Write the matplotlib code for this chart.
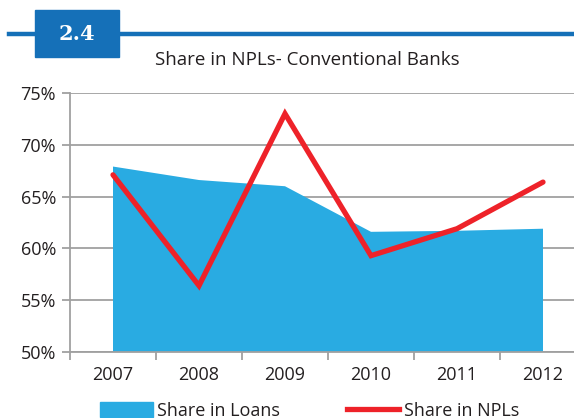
import matplotlib.pyplot as plt
from matplotlib.patches import Rectangle, Patch
from matplotlib.lines import Line2D

plt.rcParams['font.family'] = ['Open Sans', 'DejaVu Sans']

years = ['2007', '2008', '2009', '2010', '2011', '2012']
share_loans = [67.9, 66.6, 66.0, 61.6, 61.7, 61.9]
share_npls = [67.1, 56.4, 73.0, 59.3, 61.9, 66.4]
yticks = [50, 55, 60, 65, 70, 75]

W, H = 574, 418
fig = plt.figure(figsize=(W / 100, H / 100), dpi=100)

# axes in pixel terms: left 70, bottom y=352, top y=93, one category = 86px
ax = fig.add_axes([70 / W, 66 / H, 516 / W, 259 / H])
x = list(range(len(years)))
ax.fill_between(x, 0, share_loans, color='#29abe2', lw=0, zorder=2)
ax.plot(x, share_npls, color='#ee2229', lw=3.8, solid_capstyle='round',
        solid_joinstyle='miter', zorder=3)

ax.set_xlim(-0.5, 5.5)
ax.set_ylim(50, 75)
ax.set_yticks(yticks)
ax.set_yticklabels([f'{v}%' for v in yticks], fontsize=13, color='#231f20')
ax.set_xticks([i + 0.5 for i in range(-1, 6)], minor=False)
ax.set_xticklabels([])
ax.set_xticks(x, minor=True)
ax.set_xticklabels(years, minor=True, fontsize=13, color='#231f20')
ax.tick_params(axis='x', which='major', length=6, width=1.3, color='#a0a0a0', direction='out')
ax.tick_params(axis='x', which='minor', length=0, pad=10)
ax.tick_params(axis='y', length=6, width=1.3, color='#a0a0a0', pad=4)
ax.grid(axis='y', color='#a0a0a0', lw=1.3, zorder=0)
ax.set_axisbelow(True)
for s in ['top', 'right']:
    ax.spines[s].set_visible(False)
for s in ['left', 'bottom']:
    ax.spines[s].set_color('#a0a0a0')
    ax.spines[s].set_linewidth(1.3)

# header
fig.add_artist(Line2D([9 / W, 1], [1 - 34 / H, 1 - 34 / H], color='#1570b8', lw=3.2))
fig.add_artist(Rectangle((35 / W, 1 - 57 / H), 84 / W, 47 / H, color='#1570b8'))
fig.text(77 / W, 1 - 34 / H, '2.4', ha='center', va='center', color='white',
         fontsize=15, fontweight='bold', family='DejaVu Serif')
fig.text(307 / W, 1 - 60 / H, 'Share in NPLs- Conventional Banks', ha='center',
         va='center', fontsize=13.5, color='#231f20')

handles = [Patch(color='#29abe2'), Line2D([], [], color='#ee2229', lw=3.8)]
fig.legend(handles, ['Share in Loans', 'Share in NPLs'], ncol=2, frameon=False,
           loc='center left', bbox_to_anchor=(84 / W, 1 - 411 / H), fontsize=13,
           handlelength=2.9, handleheight=0.9, handletextpad=0.25, columnspacing=3.7,
           labelcolor='#231f20')

fig.savefig('out.png', dpi=100)
